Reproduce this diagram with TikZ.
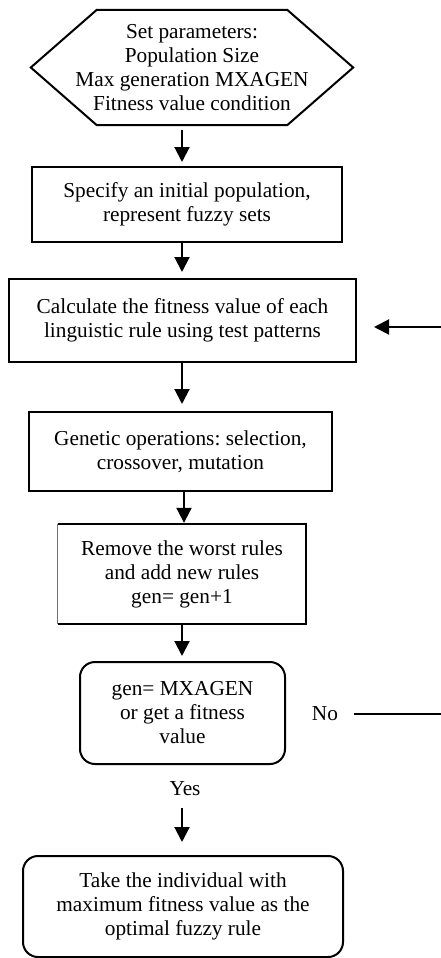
\documentclass[tikz,border=0pt]{standalone}
\usepackage{fontspec}
\setmainfont{Liberation Serif}
\usetikzlibrary{arrows.meta,calc}
\frenchspacing

\begin{document}
\begin{tikzpicture}[x=1pt,y=-1pt,
  every node/.style={font=\fontsize{21.3}{24}\selectfont\frenchspacing, align=center, inner sep=0pt},
  stepbox/.style={draw, line width=2pt, rectangle},
  roundbox/.style={draw, line width=2pt, rectangle, rounded corners=15pt},
  flow/.style={line width=2.1pt, -{Triangle[width=15pt,length=15pt]}},
  plain/.style={line width=1.7pt}
]
\useasboundingbox (0,0) rectangle (441,958);

% vertical spine of the main flow
\coordinate (spine) at (182,0);

% parameter block (hexagon)
\node (params) at (192,67.5) [minimum width=322pt, minimum height=115pt]
  {Set parameters:\\Population Size\\Max generation MXAGEN\\Fitness value condition};
\draw[line width=2pt, line join=miter]
  (params.west) -- ($(params.north west)+(66,0)$) -- ($(params.north east)+(-66,0)$)
  -- (params.east) -- ($(params.south east)+(-66,0)$) -- ($(params.south west)+(66,0)$) -- cycle;

\node[stepbox, minimum width=310pt, minimum height=75pt] (init) at (187,204.5)
  {Specify an initial population,\\represent fuzzy sets};

\node[stepbox, minimum width=347pt, minimum height=83pt] (fit) at (182.5,320.5)
  {Calculate the fitness value of each\\linguistic rule using test patterns};

\node[stepbox, minimum width=303pt, minimum height=79pt] (gen) at (180.5,451.5)
  {Genetic operations: selection,\\crossover, mutation};

% replacement step: left edge is a thin grey rule
\node[minimum width=248pt, minimum height=100pt] (repl) at (182,574)
  {Remove the worst rules\\and add new rules\\gen= gen+1};
\draw[line width=2pt] (repl.north west) -- (repl.north east) -- (repl.south east) -- (repl.south west);
\draw[line width=0.7pt, black!55] (repl.north west) -- (repl.south west);

\node[roundbox, minimum width=205pt, minimum height=102pt] (test) at (182.5,713)
  {gen= MXAGEN\\or get a fitness\\value};

\node (yes) at (185,789) {Yes};
\node (no) at (325,714) {No};

\node[roundbox, minimum width=320pt, minimum height=101pt] (best) at (183,906.5)
  {Take the individual with\\maximum fitness value as the\\optimal fuzzy rule};

% main flow arrows
\draw[flow, shorten <=5pt, shorten >=4pt] (params.south -| spine) -- (init.north -| spine);
\draw[flow, shorten >=6pt] (init.south -| spine) -- (fit.north -| spine);
\draw[flow, shorten >=7pt] (fit.south -| spine) -- (gen.north -| spine);
\draw[flow, shorten >=1pt] ($(gen.south -| spine)+(2,0)$) -- ($(repl.north -| spine)+(2,0)$);
\draw[flow, shorten >=5pt] (repl.south -| spine) -- (test.north -| spine);
\draw[flow, shorten <=12pt, shorten >=13pt] (yes.south -| spine) -- (best.north -| spine);

% loop back when the stop condition fails
\coordinate (noend) at (441,714);
\coordinate (fbin) at (441,327);
\draw[plain, shorten <=16pt] (no.east) -- (noend);
\draw[flow, shorten >=17pt] (fbin) -- (fit.east |- fbin);
\end{tikzpicture}
\end{document}
